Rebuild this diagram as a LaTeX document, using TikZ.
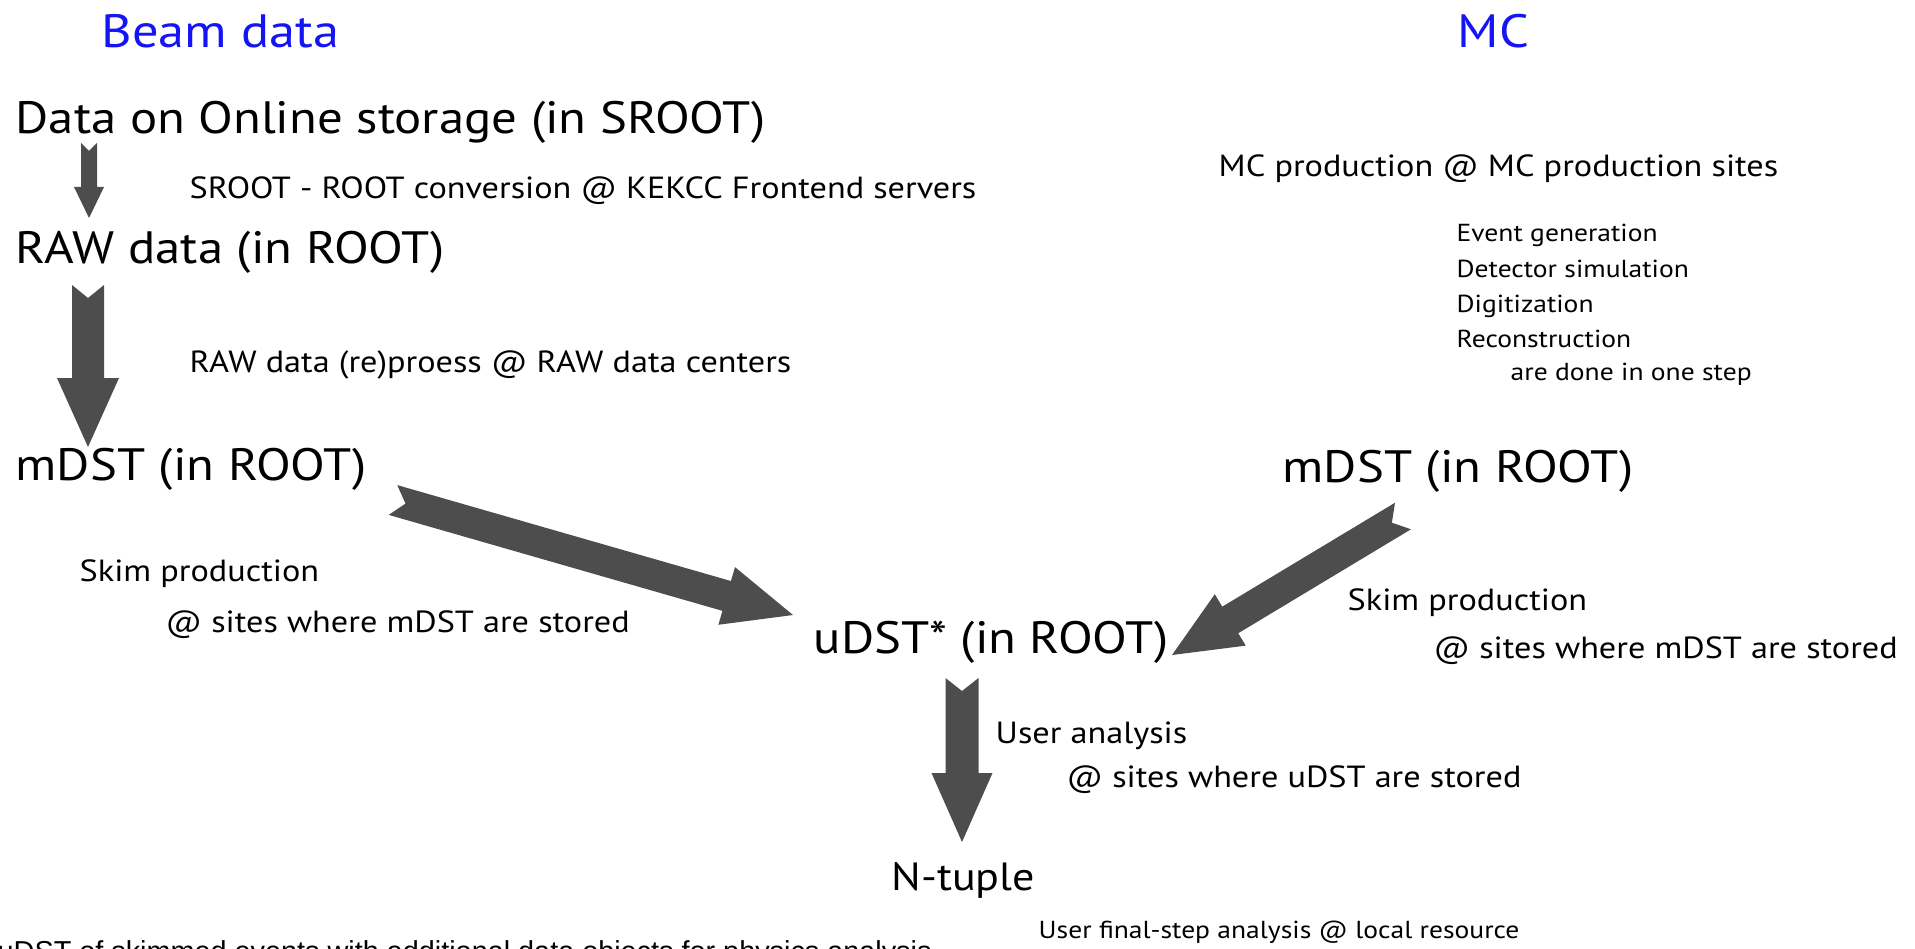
\documentclass[tikz,border=0pt]{standalone}
\usepackage{fontspec}
\setmainfont{PT Sans}[FakeStretch=1.12]
\newfontfamily\notefont{Liberation Sans}
\usepackage{tikz}
\usetikzlibrary{calc}

\definecolor{headblue}{RGB}{20,20,245}
\definecolor{arrowgray}{RGB}{77,77,77}

% block arrow with notched tail: from, to, half shaft, half head, head length, notch
\newcommand{\blockflow}[6]{%
  \coordinate (bf-hb) at ($(#2)!#5!(#1)$);
  \fill[flowfill] ($(#1)!#3!90:(#2)$) -- ($(#1)!#6!(#2)$) -- ($(#1)!#3!-90:(#2)$)
    -- ($(bf-hb)!#3!-90:(#2)$) -- ($(bf-hb)!#4!-90:(#2)$) -- (#2)
    -- ($(bf-hb)!#4!90:(#2)$) -- ($(bf-hb)!#3!90:(#2)$) -- cycle;
}

\tikzset{
  head/.style={anchor=base west, inner sep=0pt, text=headblue, font=\fontsize{13.3}{15}\selectfont},
  store/.style={anchor=base west, inner sep=0pt, font=\fontsize{12.9}{15}\selectfont},
  proc/.style={anchor=base west, inner sep=0pt, font=\fontsize{8.7}{10}\selectfont},
  stepitem/.style={anchor=base west, inner sep=0pt, font=\fontsize{7}{9}\selectfont},
  flowfill/.style={fill=arrowgray},
}

\begin{document}
\begin{tikzpicture}[x=0.1mm, y=-0.1mm]
\useasboundingbox (0,0) rectangle (1915,949);
\clip (0,0) rectangle (1915,949);

% headings
\node[head] (beam) at (101,48) {Beam data};
\node[head] (mc) at (1457,48) {MC};

% beam data chain
\node[store] (online) at (15,134) {Data on Online storage (in SROOT)};
\node[proc] (conv) at (189,199) {SROOT - ROOT conversion @ KEKCC Frontend servers};
\node[store] (raw) at (15,264) {RAW data (in ROOT)};
\node[proc] (reproc) at (189,372) {RAW data (re)proess @ RAW data centers};
\node[store] (mdstdata) at (15,480) {mDST (in ROOT)};
\node[proc] (skimdata) at (79,581) {Skim production};
\node[proc] (skimdatasite) at (165,632) {@ sites where mDST are stored};

% MC chain
\node[proc] (mcprod) at (1218,177) {MC production @ MC production sites};
\node[stepitem] (evgen) at (1456,242) {Event generation};
\node[stepitem] (detsim) at (1456,277) {Detector simulation};
\node[stepitem] (digi) at (1456,312) {Digitization};
\node[stepitem] (reco) at (1456,347) {Reconstruction};
\node[stepitem] (onestep) at (1510,380) {are done in one step};
\node[store] (mdstmc) at (1282,482) {mDST (in ROOT)};
\node[proc] (skimmc) at (1347,610) {Skim production};
\node[proc] (skimmcsite) at (1433,658) {@ sites where mDST are stored};

% analysis
\node[store] (udst) at (813,653) {uDST* (in ROOT)};
\node[proc] (useran) at (995,743) {User analysis};
\node[proc] (useransite) at (1066,787) {@ sites where uDST are stored};
\node[store, font=\fontsize{11.2}{13}\selectfont] (ntuple) at (891,890) {N-tuple};
\node[stepitem] (final) at (1038,938) {User final-step analysis @ local resource};
\node[anchor=base west, inner sep=0pt, font=\notefont\fontsize{8.2}{10}\selectfont] (note) at (-3,961)
  {uDST of skimmed events with additional data objects for physics analysis};

% flow ends
\coordinate (onlineout) at ($(online.base west)+(74,9)$);
\coordinate (rawin) at ($(raw.base west)+(74,-46)$);
\coordinate (rawout) at ($(raw.base west)+(73,21)$);
\coordinate (mdstdatain) at ($(mdstdata.base west)+(73,-33)$);
\coordinate (mdstdataout) at ($(mdstdata.base west)+(378,20)$);
\coordinate (udstinleft) at ($(udst.base west)+(-20,-38)$);
\coordinate (mdstmcout) at ($(mdstmc.base west)+(121,34)$);
\coordinate (udstinright) at ($(udst.base west)+(359,2)$);
\coordinate (udstout) at ($(udst.base west)+(149,25)$);
\coordinate (ntuplein) at ($(ntuple.base west)+(71,-48)$);

% flows
\blockflow{onlineout}{rawin}{0.8mm}{1.5mm}{3.1mm}{0.8mm}
\blockflow{rawout}{mdstdatain}{1.6mm}{3.1mm}{6.9mm}{1.3mm}
\blockflow{mdstdataout}{udstinleft}{1.55mm}{3.0mm}{6.9mm}{1.3mm}
\blockflow{mdstmcout}{udstinright}{1.55mm}{3.0mm}{6.8mm}{1.3mm}
\blockflow{udstout}{ntuplein}{1.65mm}{3.05mm}{6.9mm}{1.3mm}
\end{tikzpicture}
\end{document}
